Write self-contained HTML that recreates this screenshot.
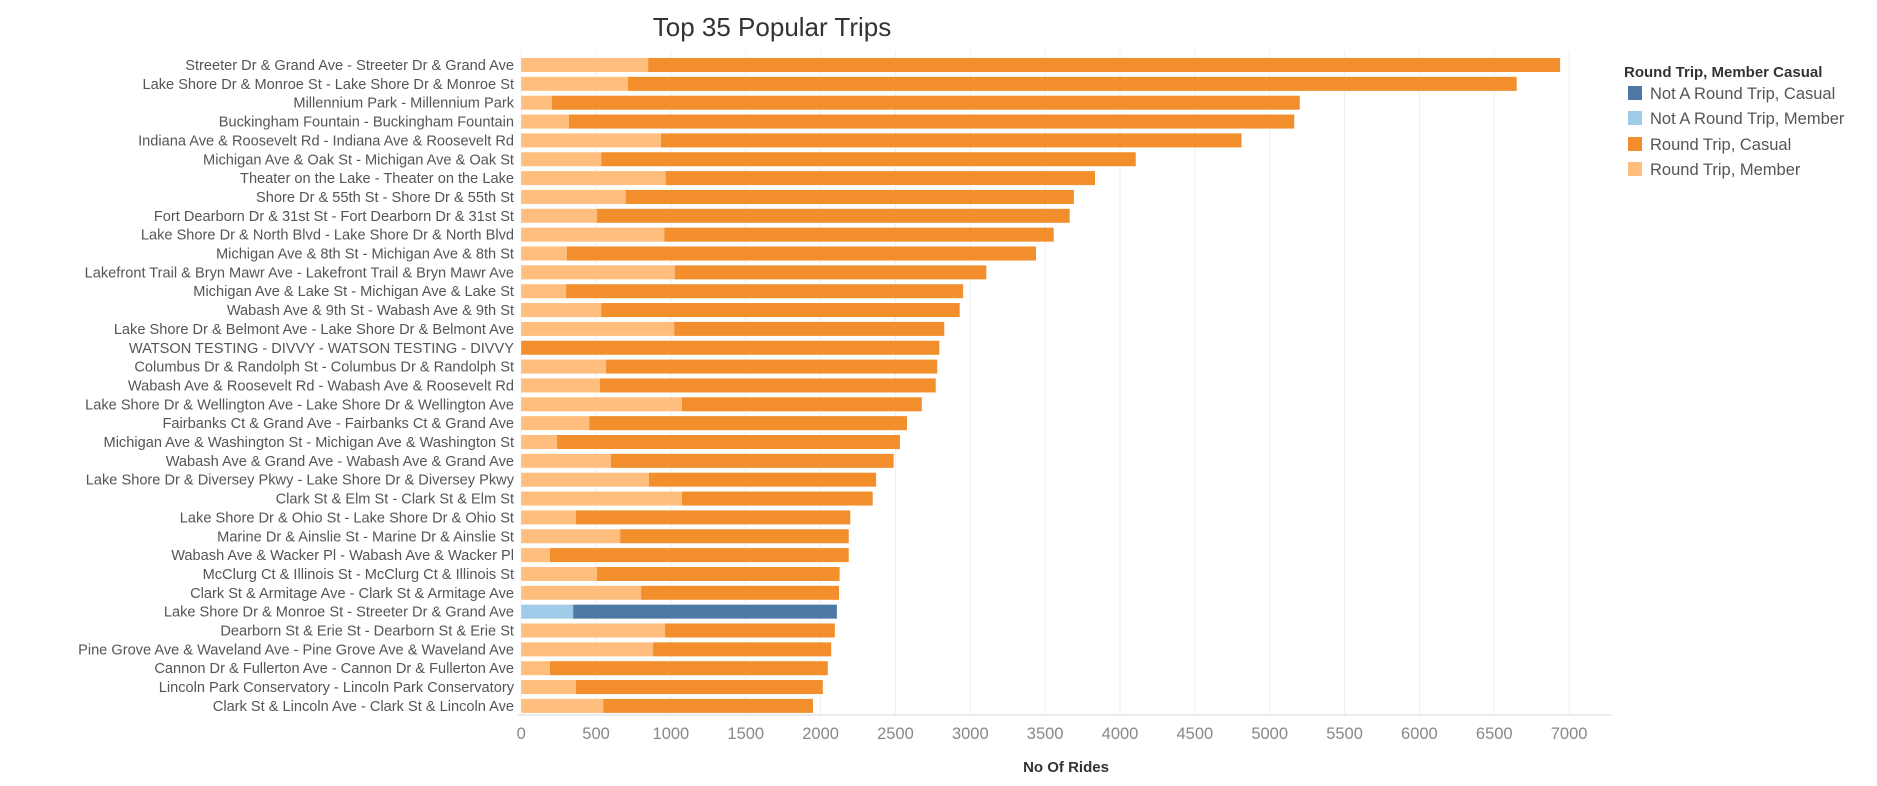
<!DOCTYPE html>
<html><head><meta charset="utf-8"><style>
html,body{margin:0;padding:0;background:#fff;}
svg{display:block;font-family:"Liberation Sans",sans-serif;}
</style></head><body>
<svg id="chart" width="1877" height="786" viewBox="0 0 1877 786">
<text x="772" y="36" text-anchor="middle" font-size="26" fill="#333">Top 35 Popular Trips</text>
<g id="grid"></g>
<g id="bars"></g>
<g id="ylabels"></g>
<g id="xaxis"></g>
<text x="1066" y="772" text-anchor="middle" font-size="15" font-weight="bold" fill="#333">No Of Rides</text>
<g>
<text x="1624" y="77" font-size="15" font-weight="bold" fill="#333">Round Trip, Member Casual</text>
<g><rect x="1628" y="86" width="14" height="14" fill="#4e79a7"/><text x="1650" y="99" font-size="16.5" fill="#555">Not A Round Trip, Casual</text></g>
<g><rect x="1628" y="111" width="14" height="14" fill="#a0cbe8"/><text x="1650" y="124" font-size="16.5" fill="#555">Not A Round Trip, Member</text></g>
<g><rect x="1628" y="137" width="14" height="14" fill="#f28e2b"/><text x="1650" y="150" font-size="16.5" fill="#555">Round Trip, Casual</text></g>
<g><rect x="1628" y="162" width="14" height="14" fill="#ffbe7d"/><text x="1650" y="175" font-size="16.5" fill="#555">Round Trip, Member</text></g>
</g>
</svg>
<script>
const categories = [
"Streeter Dr & Grand Ave - Streeter Dr & Grand Ave",
"Lake Shore Dr & Monroe St - Lake Shore Dr & Monroe St",
"Millennium Park - Millennium Park",
"Buckingham Fountain - Buckingham Fountain",
"Indiana Ave & Roosevelt Rd - Indiana Ave & Roosevelt Rd",
"Michigan Ave & Oak St - Michigan Ave & Oak St",
"Theater on the Lake - Theater on the Lake",
"Shore Dr & 55th St - Shore Dr & 55th St",
"Fort Dearborn Dr & 31st St - Fort Dearborn Dr & 31st St",
"Lake Shore Dr & North Blvd - Lake Shore Dr & North Blvd",
"Michigan Ave & 8th St - Michigan Ave & 8th St",
"Lakefront Trail & Bryn Mawr Ave - Lakefront Trail & Bryn Mawr Ave",
"Michigan Ave & Lake St - Michigan Ave & Lake St",
"Wabash Ave & 9th St - Wabash Ave & 9th St",
"Lake Shore Dr & Belmont Ave - Lake Shore Dr & Belmont Ave",
"WATSON TESTING - DIVVY - WATSON TESTING - DIVVY",
"Columbus Dr & Randolph St - Columbus Dr & Randolph St",
"Wabash Ave & Roosevelt Rd - Wabash Ave & Roosevelt Rd",
"Lake Shore Dr & Wellington Ave - Lake Shore Dr & Wellington Ave",
"Fairbanks Ct & Grand Ave - Fairbanks Ct & Grand Ave",
"Michigan Ave & Washington St - Michigan Ave & Washington St",
"Wabash Ave & Grand Ave - Wabash Ave & Grand Ave",
"Lake Shore Dr & Diversey Pkwy - Lake Shore Dr & Diversey Pkwy",
"Clark St & Elm St - Clark St & Elm St",
"Lake Shore Dr & Ohio St - Lake Shore Dr & Ohio St",
"Marine Dr & Ainslie St - Marine Dr & Ainslie St",
"Wabash Ave & Wacker Pl - Wabash Ave & Wacker Pl",
"McClurg Ct & Illinois St - McClurg Ct & Illinois St",
"Clark St & Armitage Ave - Clark St & Armitage Ave",
"Lake Shore Dr & Monroe St - Streeter Dr & Grand Ave",
"Dearborn St & Erie St - Dearborn St & Erie St",
"Pine Grove Ave & Waveland Ave - Pine Grove Ave & Waveland Ave",
"Cannon Dr & Fullerton Ave - Cannon Dr & Fullerton Ave",
"Lincoln Park Conservatory - Lincoln Park Conservatory",
"Clark St & Lincoln Ave - Clark St & Lincoln Ave"];
const memberRides = [848,712,206,319,933,534,965,698,506,956,305,1026,300,534,1022,0,567,525,1073,455,239,600,853,1073,366,661,192,506,801,347,961,881,192,366,548];
const casualRides = [6092,5938,4995,4845,3879,3571,2868,2994,3158,2601,3134,2081,2652,2395,1804,2793,2212,2244,1603,2122,2291,1888,1518,1275,1832,1527,1996,1621,1322,1762,1134,1190,1856,1649,1401];
const roundTrip = [1,1,1,1,1,1,1,1,1,1,1,1,1,1,1,1,1,1,1,1,1,1,1,1,1,1,1,1,1,0,1,1,1,1,1];
const xTicks = [0,500,1000,1500,2000,2500,3000,3500,4000,4500,5000,5500,6000,6500,7000];

const NS="http://www.w3.org/2000/svg";
const x0=521.2, pxPer=0.1497, yTop=65, step=18.85, barH=14;
const xs=v=>x0+v*pxPer;
const ys=i=>yTop+i*step;
function mk(tag,attrs,parent){const e=document.createElementNS(NS,tag);for(const k in attrs)e.setAttribute(k,attrs[k]);parent.appendChild(e);return e;}
const grid=document.getElementById('grid'),bars=document.getElementById('bars'),yl=document.getElementById('ylabels'),xa=document.getElementById('xaxis');
xTicks.forEach(t=>{
  const l=mk('line',{x1:xs(t),x2:xs(t),y1:50,y2:715,stroke:'#efefef','stroke-width':1},grid);
  
  
  const tx=mk('text',{x:xs(t),y:739,'text-anchor':'middle','font-size':16.5,fill:'#888'},xa);
  tx.textContent=t;
  
  
});
const ax=mk('line',{x1:518,x2:1612,y1:715,y2:715,stroke:'#e6e6e6','stroke-width':1.5},xa);


categories.forEach((c,i)=>{
  const cy=ys(i);
  const rt=roundTrip[i];
  const mColor=rt?'#ffbe7d':'#a0cbe8', cColor=rt?'#f28e2b':'#4e79a7';
  const m=mk('rect',{x:xs(0),y:cy-barH/2,width:xs(memberRides[i])-xs(0),height:barH,fill:mColor},bars);
  
  
  const cs=mk('rect',{x:xs(memberRides[i]),y:cy-barH/2,width:xs(memberRides[i]+casualRides[i])-xs(memberRides[i]),height:barH,fill:cColor},bars);
  
  
  const t=mk('text',{x:514,y:cy+5,'text-anchor':'end','font-size':14.6,fill:'#555'},yl);
  t.textContent=c;
  
  
});
</script>
</body></html>
